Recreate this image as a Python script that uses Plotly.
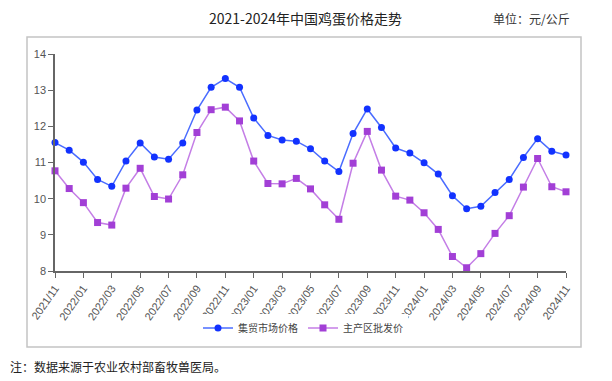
import plotly.graph_objects as go

months = []
y, m = 2021, 11
for _ in range(37):
    months.append(f"{y}/{m:02d}")
    m += 1
    if m > 12:
        m = 1
        y += 1

market_price = [11.55, 11.34, 11.01, 10.53, 10.34, 11.04, 11.54, 11.15, 11.09, 11.54,
                12.45, 13.08, 13.32, 13.08, 12.23, 11.75, 11.62, 11.59, 11.38, 11.04,
                10.75, 11.80, 12.48, 11.97, 11.40, 11.26, 10.99, 10.68, 10.08, 9.72,
                9.79, 10.17, 10.53, 11.14, 11.66, 11.31, 11.21]
wholesale_price = [10.77, 10.28, 9.89, 9.34, 9.27, 10.29, 10.84, 10.06, 9.99, 10.66,
                   11.83, 12.46, 12.53, 12.15, 11.04, 10.42, 10.41, 10.56, 10.27, 9.83,
                   9.43, 10.98, 11.86, 10.79, 10.07, 9.96, 9.61, 9.15, 8.40, 8.09,
                   8.48, 9.04, 9.53, 10.32, 11.11, 10.33, 10.19]
series_names = ["集贸市场价格", "主产区批发价"]
y_ticks = [8, 9, 10, 11, 12, 13, 14]
x_tick_labels = months[::2]

xs = list(range(len(months)))

# page body adds an 8px offset; work in figure coordinates = screen - 8
OFF = 8
W, H = 612 - OFF, 381 - OFF
L, R, T, B = 55 - OFF, 566 - OFF, 54 - OFF, 271 - OFF
PW, PH = R - L, B - T


def px(x):
    return (x - OFF - L) / PW


def py(y):
    return (B - (y - OFF)) / PH


fig = go.Figure()
fig.add_trace(go.Scatter(
    x=xs, y=market_price, name=series_names[0], mode="lines+markers",
    line=dict(color="#4a6cff", width=1.5),
    marker=dict(symbol="circle", size=7, color="#1232ff"),
    cliponaxis=False,
))
fig.add_trace(go.Scatter(
    x=xs, y=wholesale_price, name=series_names[1], mode="lines+markers",
    line=dict(color="#c47ee6", width=1.5),
    marker=dict(symbol="square", size=7, color="#a23fd6"),
    cliponaxis=False,
))

fig.add_shape(type="rect", xref="paper", yref="paper",
              x0=px(27), x1=px(581), y0=py(347), y1=py(37),
              line=dict(color="#c4c4c4", width=1.5), layer="above")

fig.update_layout(
    width=W, height=H,
    margin=dict(l=L, r=W - R, t=T, b=H - B, autoexpand=False),
    paper_bgcolor="white", plot_bgcolor="white",
    showlegend=True,
    legend=dict(orientation="h", x=px(303), xanchor="center", y=py(328), yanchor="middle",
                font=dict(family="Noto Sans CJK SC", size=10, color="#444"),
                tracegroupgap=0, itemwidth=30),
    font=dict(family="Liberation Sans", size=11, color="#555"),
    xaxis=dict(
        range=[0, 36], tickmode="array", automargin=False,
        tickvals=xs[::2], ticktext=x_tick_labels, tickangle=-55,
        showgrid=False, zeroline=False, showline=True, linecolor="#666", linewidth=1.5,
        ticks="outside", ticklen=5, tickcolor="#666",
        tickfont=dict(family="Liberation Sans", size=11, color="#555"),
    ),
    yaxis=dict(
        range=[8, 14], tickvals=y_ticks, automargin=False,
        showgrid=False, zeroline=False, showline=True, linecolor="#666", linewidth=1.5,
        ticks="outside", ticklen=5, tickcolor="#666",
        tickfont=dict(family="Liberation Sans", size=11, color="#555"),
    ),
    annotations=[
        dict(text="2021-2024年中国鸡蛋价格走势", xref="paper", yref="paper",
             x=px(305), y=py(18), xanchor="center", yanchor="middle",
             showarrow=False, font=dict(family="Noto Sans CJK SC", size=14, color="#222")),
        dict(text="单位：元/公斤", xref="paper", yref="paper",
             x=px(572), y=py(18), xanchor="right", yanchor="middle",
             showarrow=False, font=dict(family="Noto Sans CJK SC", size=12, color="#333")),
        dict(text="注：数据来源于农业农村部畜牧兽医局。", xref="paper", yref="paper",
             x=px(8), y=py(366), xanchor="left", yanchor="middle",
             showarrow=False, font=dict(family="Noto Sans CJK SC", size=12, color="#222")),
    ],
)

fig.write_html("out.html")
